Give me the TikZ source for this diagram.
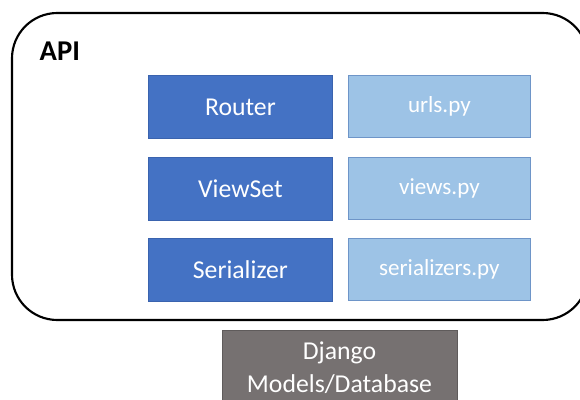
\documentclass[tikz,border=0pt]{standalone}
\usepackage{fontspec}
\setmainfont{Carlito}
\definecolor{darkb}{HTML}{4472C4}
\definecolor{darkbline}{HTML}{3A63AE}
\definecolor{lightb}{HTML}{9DC3E6}
\definecolor{lightbline}{HTML}{6E95C8}
\definecolor{grayb}{HTML}{767171}
\definecolor{graybline}{HTML}{5F5B5B}
\begin{document}
\begin{tikzpicture}[x=0.75pt,y=-0.75pt,
  darkbox/.style={draw=darkbline,line width=0.6pt,fill=darkb,text=white,font=\fontsize{19.3}{22}\selectfont},
  lightbox/.style={draw=lightbline,line width=0.6pt,fill=lightb,text=white,font=\fontsize{17.3}{20}\selectfont},
  graybox/.style={draw=graybline,line width=0.6pt,fill=grayb,text=white}]
\useasboundingbox (0,0) rectangle (580,399);
\begin{scope}
\clip (0,0) rectangle (580,399);
\draw[line width=1.6pt,rounded corners=34pt] (12,13) rectangle (588,320);
\node[graybox,minimum width=235*0.75pt,minimum height=75*0.75pt,anchor=north west,inner sep=0pt] (db) at (222,330) {};
\end{scope}
\node[font=\fontsize{21.5}{24}\selectfont\bfseries,anchor=west] (api) at (35,51) {API};
\foreach \n/\t/\l/\y in {router/Router/urls.py/75, viewset/ViewSet/views.py/157, serializer/Serializer/serializers.py/238}{
  \node[darkbox,minimum width=184*0.75pt,minimum height=63*0.75pt,anchor=north west,inner sep=0pt] (\n) at (148,\y) {\t};
  \node[lightbox,minimum width=182*0.75pt,minimum height=62*0.75pt,anchor=north west,inner sep=0pt] (\n f) at (348,\y) {\l};
}
\node[text=white,font=\fontsize{19.3}{22.5}\selectfont] (dj) at (339.5,353) {Django};
\node[text=white,font=\fontsize{19.3}{22.5}\selectfont] (md) at (339.5,384) {Models/Database};
\end{tikzpicture}
\end{document}
